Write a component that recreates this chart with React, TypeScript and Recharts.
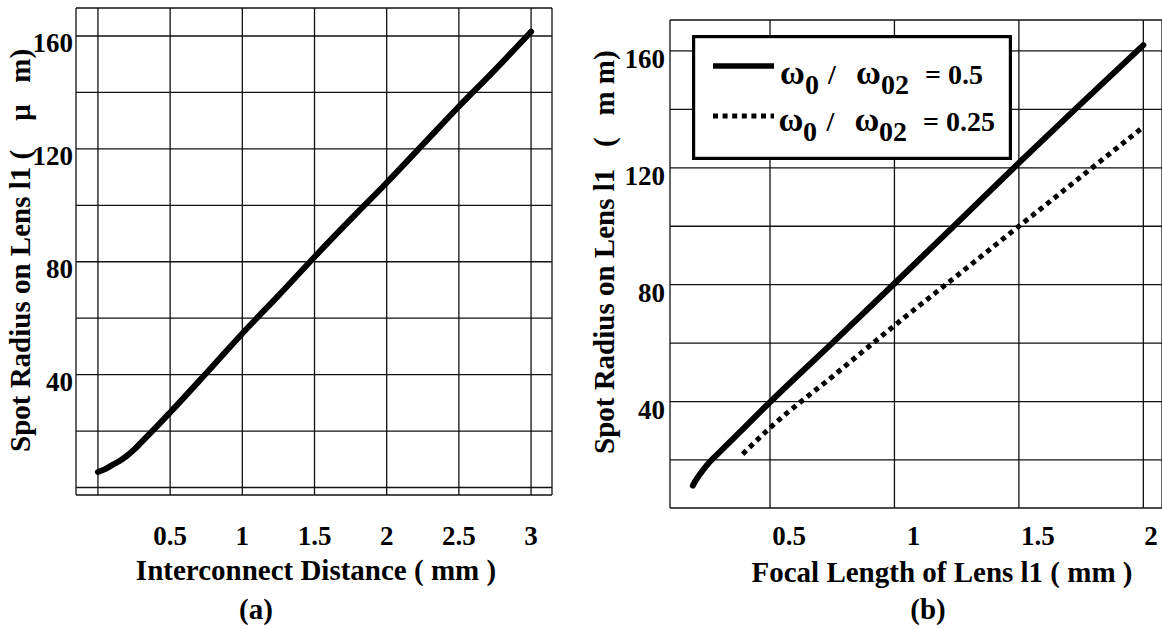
import { CartesianGrid, Label, Legend, Line, LineChart, XAxis, YAxis } from "recharts";

const FONT = "'Liberation Serif', 'Times New Roman', serif";

// (a) spot radius vs interconnect distance
const distanceMm = [0, 0.05, 0.1, 0.15, 0.2, 0.25, 0.3, 0.4, 0.5, 0.75, 1, 1.25, 1.5, 1.75, 2, 2.25, 2.5, 2.75, 3];
const spotRadiusA = [5.5, 6.5, 8, 9.4, 11.2, 13.4, 16, 21.2, 26.6, 40.5, 54.6, 68, 81.7, 95, 108, 121.5, 135, 148, 161.5];
const xTicksA = [0, 0.5, 1, 1.5, 2, 2.5, 3];
const yTicksA = [0, 20, 40, 60, 80, 100, 120, 140, 160];

// (b) spot radius vs focal length, two waist ratios
const focalHalf = [0.19, 0.2, 0.22, 0.25, 0.3, 0.4, 0.5, 0.75, 1, 1.25, 1.5, 1.75, 2];
const spotHalf = [11.2, 12.8, 15.3, 18.6, 22.9, 31.3, 39.8, 60, 80.4, 101, 121.7, 142, 162];
const focalQuarter = [0.39, 0.5, 0.75, 1, 1.25, 1.5, 1.75, 2];
const spotQuarter = [22, 31, 48.5, 66, 83, 100, 117, 134];
const xTicksB = [0.5, 1, 1.5, 2];
const yTicksB = [20, 40, 60, 80, 100, 120, 140, 160];
const ratioLabels = ["0.5", "0.25"];

const labelledY = [40, 80, 120, 160];

const pointsA = distanceMm.map((d, i) => ({ x: d, r: spotRadiusA[i] }));
const pointsHalf = focalHalf.map((f, i) => ({ x: f, r: spotHalf[i] }));
const pointsQuarter = focalQuarter.map((f, i) => ({ x: f, r: spotQuarter[i] }));

const txt = { fontFamily: FONT, fontWeight: 700, fill: "#000" } as const;

function yTick(dy: number) {
  return (props: any) => {
    const { x, y, payload } = props;
    if (!labelledY.includes(payload.value)) return <g />;
    return (
      <text x={x} y={y + dy} textAnchor="end" fontSize={27} {...txt}>
        {payload.value}
      </text>
    );
  };
}

// dx shifts labels right like the scan; maxX keeps the last one inside the frame
function xTick(dy: number, dx: number, maxX: number) {
  return (props: any) => {
    const { x, y, payload } = props;
    if (payload.value === 0) return <g />;
    return (
      <text x={Math.min(x + dx, maxX)} y={y + dy} textAnchor="middle" fontSize={27} {...txt}>
        {payload.value}
      </text>
    );
  };
}

function LegendBox() {
  return (
    <svg width={320} height={125} style={{ display: "block" }}>
      <rect x={1.6} y={1.6} width={316.8} height={121.8} fill="#fff" stroke="#000" strokeWidth={3.2} />
      {ratioLabels.map((v, i) => {
        const ly = 31 + i * 50;
        const by = 49 + i * 46.5;
        return (
          <g key={v}>
            <line
              x1={21}
              x2={82}
              y1={ly}
              y2={ly}
              stroke="#000"
              strokeWidth={i === 0 ? 5.5 : 5}
              strokeDasharray={i === 0 ? undefined : "5 4.6"}
            />
            <text y={by} {...txt} fontSize={28}>
              <tspan x={88 - i * 1.5} fontSize={34}>ω</tspan>
              <tspan x={113 - i * 2} dy={10}>0</tspan>
              <tspan x={136 - i * 1.5} dy={-10}>/</tspan>
              <tspan x={164 - i * 1.5} fontSize={34}>ω</tspan>
              <tspan x={189 - i * 2} dy={10}>02</tspan>
              <tspan x={233 - i * 2} dy={-10}>= {v}</tspan>
            </text>
          </g>
        );
      })}
    </svg>
  );
}

function ChartA() {
  return (
    <LineChart width={580} height={629} margin={{ top: 8, right: 28, bottom: 0, left: 0 }}>
      <CartesianGrid stroke="#111" strokeWidth={1.3} />
      <XAxis
        type="number"
        dataKey="x"
        domain={[-0.152, 3.145]}
        allowDataOverflow
        ticks={xTicksA}
        interval={0}
        height={134}
        axisLine={false}
        tickLine={false}
        tickSize={0}
        tick={xTick(48, 0, 570)}
      >
        <Label
          content={() => (
            <text x={316} y={580} textAnchor="middle" fontSize={29} {...txt}>
              Interconnect Distance ( mm )
            </text>
          )}
        />
        <Label
          content={() => (
            <text x={256} y={619} textAnchor="middle" fontSize={29} {...txt}>
              (a)
            </text>
          )}
        />
      </XAxis>
      <YAxis
        type="number"
        domain={[-2.66, 169.92]}
        allowDataOverflow
        ticks={yTicksA}
        interval={0}
        width={76}
        axisLine={false}
        tickLine={false}
        tickSize={0}
        tickMargin={3}
        tick={yTick(16)}
      >
        <Label
          content={() => (
            <text x={30} y={452} transform="rotate(-90 30 452)" fontSize={29} {...txt}>
              {"Spot Radius on Lens l1 (\u00A0\u00A0\u00A0\u00A0μ\u00A0\u00A0\u00A0m)"}
            </text>
          )}
        />
      </YAxis>
      <Line
        data={pointsA}
        dataKey="r"
        type="monotone"
        stroke="#000"
        strokeWidth={6}
        strokeLinecap="round"
        dot={false}
        activeDot={false}
        isAnimationActive={false}
      />
    </LineChart>
  );
}

function ChartB() {
  return (
    <LineChart width={581} height={629} margin={{ top: 20, right: 0, bottom: 0, left: 0 }}>
      <CartesianGrid stroke="#111" strokeWidth={1.3} />
      <XAxis
        type="number"
        dataKey="x"
        domain={[0.0982, 2.075]}
        allowDataOverflow
        ticks={xTicksB}
        interval={0}
        height={121}
        axisLine={false}
        tickLine={false}
        tickSize={0}
        tick={xTick(35, 19, 570)}
      >
        <Label
          content={() => (
            <text x={361} y={582} textAnchor="middle" fontSize={29} {...txt}>
              Focal Length of Lens l1 ( mm )
            </text>
          )}
        />
        <Label
          content={() => (
            <text x={347} y={619} textAnchor="middle" fontSize={29} {...txt}>
              (b)
            </text>
          )}
        />
      </XAxis>
      <YAxis
        type="number"
        domain={[3.56, 170.6]}
        allowDataOverflow
        ticks={yTicksB}
        interval={0}
        width={89}
        axisLine={false}
        tickLine={false}
        tickSize={0}
        tickMargin={5}
        tick={yTick(17)}
      >
        <Label
          content={() => (
            <text x={33} y={454} transform="rotate(-90 33 454)" fontSize={29} {...txt}>
              {"Spot Radius on Lens l1\u00A0\u00A0\u00A0(\u00A0\u00A0\u00A0m m)"}
            </text>
          )}
        />
      </YAxis>
      <Legend
        layout="vertical"
        align="center"
        verticalAlign="middle"
        wrapperStyle={{ left: 111, top: 35, width: 320, height: 125 }}
        content={() => <LegendBox />}
      />
      <Line
        data={pointsHalf}
        dataKey="r"
        name="0.5"
        type="monotone"
        stroke="#000"
        strokeWidth={6}
        strokeLinecap="round"
        dot={false}
        activeDot={false}
        isAnimationActive={false}
      />
      <Line
        data={pointsQuarter}
        dataKey="r"
        name="0.25"
        type="monotone"
        stroke="#000"
        strokeWidth={5}
        strokeDasharray="5 4.6"
        dot={false}
        activeDot={false}
        isAnimationActive={false}
      />
    </LineChart>
  );
}

export default function App() {
  return (
    <div style={{ position: "absolute", left: 0, top: 0, width: 1162, height: 629, background: "#fff" }}>
      <div style={{ position: "absolute", left: 0, top: 0 }}>
        <ChartA />
      </div>
      <div style={{ position: "absolute", left: 581, top: 0 }}>
        <ChartB />
      </div>
    </div>
  );
}
